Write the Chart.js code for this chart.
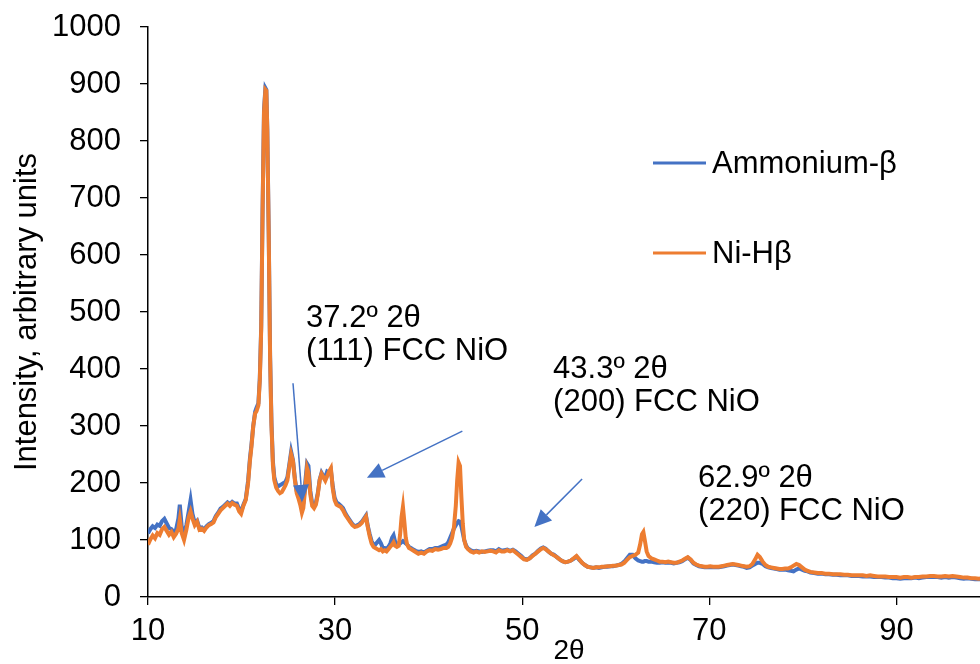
<!DOCTYPE html>
<html>
<head>
<meta charset="utf-8">
<script src="https://cdn.jsdelivr.net/npm/chart.js@4/dist/chart.umd.min.js"></script>
<style>
  html, body { margin: 0; padding: 0; background: #fff; overflow: hidden; }
  #wrap { width: 990px; height: 664px; position: relative; }
</style>
</head>
<body>
<div id="wrap"><canvas id="xrdChart"></canvas></div>
<script>
// 2θ positions
const twoTheta = [
  10.0, 10.25, 10.5, 10.75, 11.0, 11.25, 11.5, 11.75, 12.0, 12.25, 12.5, 12.75, 13.0, 13.25, 13.4, 13.6, 13.85, 14.1, 14.35, 14.55,
  14.75, 15.0, 15.25, 15.5, 15.75, 16.0, 16.25, 16.5, 16.75, 17.0, 17.25, 17.5, 17.75, 18.0, 18.25, 18.5, 18.75, 19.0, 19.25, 19.5,
  19.75, 19.95, 20.2, 20.45, 20.7, 20.9, 21.05, 21.25, 21.45, 21.6, 21.8, 21.95, 22.1, 22.25, 22.4, 22.55, 22.65, 22.75, 22.9, 23.05,
  23.2, 23.35, 23.5, 23.7, 23.9, 24.1, 24.3, 24.5, 24.7, 24.9, 25.1, 25.3, 25.5, 25.7, 25.9, 26.1, 26.3, 26.45, 26.6, 26.8,
  27.0, 27.15, 27.35, 27.55, 27.75, 27.95, 28.15, 28.35, 28.55, 28.75, 28.95, 29.15, 29.35, 29.55, 29.75, 29.95, 30.15, 30.35, 30.6, 30.85,
  31.1, 31.35, 31.6, 31.85, 32.1, 32.35, 32.6, 32.85, 33.1, 33.3, 33.5, 33.7, 33.9, 34.1, 34.3, 34.5, 34.7, 34.9, 35.1, 35.3,
  35.5, 35.7, 35.9, 36.1, 36.25, 36.4, 36.6, 36.8, 36.95, 37.1, 37.25, 37.4, 37.55, 37.7, 37.9, 38.1, 38.3, 38.6, 38.9, 39.2,
  39.5, 39.8, 40.1, 40.4, 40.7, 41.0, 41.3, 41.6, 41.9, 42.1, 42.3, 42.5, 42.7, 42.9, 43.05, 43.2, 43.35, 43.5, 43.65, 43.8,
  44.0, 44.2, 44.5, 44.8, 45.1, 45.4, 45.7, 46.0, 46.3, 46.6, 46.9, 47.2, 47.5, 47.8, 48.1, 48.4, 48.7, 49.0, 49.3, 49.6,
  49.9, 50.2, 50.5, 50.8, 51.1, 51.4, 51.7, 52.0, 52.25, 52.5, 52.8, 53.1, 53.4, 53.7, 54.0, 54.3, 54.6, 54.9, 55.2, 55.5,
  55.8, 56.1, 56.4, 56.7, 57.0, 57.3, 57.6, 57.9, 58.2, 58.5, 58.8, 59.1, 59.4, 59.7, 60.0, 60.3, 60.6, 60.9, 61.2, 61.5,
  61.8, 62.1, 62.4, 62.6, 62.8, 62.95, 63.1, 63.3, 63.5, 63.8, 64.1, 64.4, 64.7, 65.0, 65.3, 65.6, 65.9, 66.2, 66.5, 66.8,
  67.1, 67.4, 67.7, 68.0, 68.3, 68.6, 68.9, 69.2, 69.5, 69.8, 70.1, 70.4, 70.7, 71.0, 71.3, 71.6, 71.9, 72.2, 72.5, 72.8,
  73.1, 73.4, 73.7, 74.0, 74.3, 74.6, 74.9, 75.15, 75.4, 75.7, 76.0, 76.3, 76.6, 76.9, 77.2, 77.5, 77.8, 78.1, 78.4, 78.7,
  79.0, 79.3, 79.6, 79.9, 80.2, 80.5, 80.8, 81.2, 81.6, 82.0, 82.4, 82.8, 83.2, 83.6, 84.0, 84.4, 84.8, 85.2, 85.6, 86.0,
  86.4, 86.8, 87.2, 87.6, 88.0, 88.4, 88.8, 89.2, 89.6, 90.0, 90.4, 90.8, 91.2, 91.6, 92.0, 92.4, 92.8, 93.2, 93.6, 94.0,
  94.4, 94.8, 95.2, 95.6, 96.0, 96.4, 96.8, 97.2, 97.6, 98.0, 98.4, 98.8, 99.2, 99.6, 100.0
];

const ammoniumBeta = [
  112, 119, 124, 121, 127, 125, 133, 137, 129, 121, 119, 114, 118, 138, 162, 124, 110, 126, 150, 170,
  146, 130, 134, 121, 122, 118, 124, 128, 130, 133, 142, 148, 155, 158, 162, 166, 163, 167, 164, 164,
  154, 150, 162, 172, 204, 244, 266, 300, 325, 332, 340, 384, 475, 685, 855, 893, 890, 822, 645, 425,
  305, 238, 210, 198, 194, 196, 198, 200, 202, 210, 232, 255, 240, 208, 186, 176, 168, 158, 164, 200,
  234, 230, 186, 164, 160, 166, 182, 206, 218, 212, 210, 220, 218, 222, 194, 174, 166, 164, 160, 156,
  147, 140, 134, 128, 124, 126, 128, 132, 138, 143, 124, 110, 98, 92, 92, 96, 100, 94, 86, 86,
  84, 88, 94, 104, 108, 98, 92, 94, 94, 96, 98, 96, 94, 92, 88, 86, 84, 81, 79, 80,
  78, 81, 84, 84, 86, 86, 88, 90, 92, 96, 104, 112, 120, 126, 130, 133, 132, 124, 112, 100,
  90, 85, 82, 80, 81, 80, 79, 80, 81, 82, 82, 80, 84, 81, 82, 83, 81, 83, 80, 76,
  72, 67, 66, 68, 73, 76, 81, 85, 87, 85, 80, 76, 74, 70, 66, 63, 61, 62, 64, 67,
  71, 65, 60, 56, 53, 52, 51, 52, 51, 52, 53, 53, 54, 54, 55, 56, 58, 62, 68, 74,
  74, 68, 64, 63, 62, 62, 63, 63, 62, 62, 61, 60, 60, 61, 60, 60, 60, 59, 60, 61,
  63, 66, 69, 65, 59, 56, 54, 53, 52, 52, 52, 52, 52, 52, 53, 54, 55, 56, 57, 56,
  55, 54, 53, 51, 52, 55, 58, 60, 60, 58, 54, 52, 51, 50, 49, 48, 48, 48, 47, 46,
  45, 48, 50, 48, 46, 45, 43, 42, 41, 41, 40, 40, 39, 39, 38, 38, 38, 37, 37, 37,
  36, 36, 36, 35, 35, 35, 34, 34, 33, 33, 32, 33, 33, 33, 34, 33, 34, 35, 35, 35,
  35, 34, 35, 34, 35, 34, 33, 32, 33, 32, 31, 31, 31, 30, 30
];

const niHBeta = [
  92, 101, 108, 103, 112, 109, 119, 123, 116, 109, 114, 105, 111, 120, 136, 112, 100, 118, 140, 150,
  138, 126, 132, 118, 120, 116, 122, 126, 128, 131, 140, 146, 152, 156, 160, 164, 160, 165, 162, 160,
  150, 146, 160, 170, 200, 240, 262, 300, 322, 326, 336, 380, 470, 680, 850, 890, 888, 820, 640, 420,
  300, 232, 205, 192, 186, 182, 184, 190, 196, 205, 228, 250, 238, 205, 182, 172, 160, 148, 156, 190,
  226, 218, 180, 160, 156, 162, 180, 205, 216, 210, 204, 212, 220, 226, 190, 170, 162, 160, 158, 152,
  144, 138, 132, 126, 123, 124, 126, 130, 136, 141, 122, 106, 94, 88, 86, 84, 82, 84, 80, 82,
  80, 84, 88, 92, 96, 90, 88, 90, 110, 140, 158, 132, 104, 92, 86, 84, 82, 79, 76, 78,
  76, 80, 82, 81, 84, 83, 84, 86, 86, 88, 94, 104, 122, 160, 205, 236, 230, 175, 128, 100,
  88, 84, 80, 78, 80, 78, 80, 79, 80, 81, 80, 78, 82, 80, 80, 82, 80, 82, 78, 74,
  70, 66, 65, 68, 72, 76, 80, 84, 86, 84, 80, 76, 73, 70, 66, 63, 61, 62, 64, 68,
  72, 66, 60, 56, 53, 52, 51, 52, 52, 53, 53, 54, 54, 55, 55, 56, 57, 60, 65, 70,
  72, 74, 78, 92, 110, 114, 100, 80, 72, 68, 66, 64, 62, 62, 61, 62, 61, 60, 60, 62,
  64, 67, 70, 66, 60, 57, 55, 54, 53, 53, 54, 53, 53, 53, 54, 55, 56, 57, 58, 57,
  56, 55, 54, 53, 54, 58, 66, 74, 70, 62, 56, 53, 52, 51, 50, 49, 49, 50, 50, 52,
  55, 58, 56, 52, 48, 46, 44, 43, 42, 42, 41, 41, 40, 40, 40, 39, 39, 38, 38, 38,
  38, 37, 38, 37, 36, 36, 36, 35, 35, 35, 34, 35, 35, 34, 35, 35, 36, 36, 37, 37,
  36, 36, 37, 36, 37, 36, 35, 34, 34, 33, 33, 32, 33, 32, 32
];

const seriesNames = ['Ammonium-β', 'Ni-Hβ'];
const seriesColors = ['#4472C4', '#ED7D31'];
const yTicks = [0, 100, 200, 300, 400, 500, 600, 700, 800, 900, 1000];
const xTicks = [10, 30, 50, 70, 90];

// annotation texts, anchored in data units (2θ, intensity) at the first line's baseline
const noteLines = [
  ['37.2º 2θ', '(111) FCC NiO'],
  ['43.3º 2θ', '(200) FCC NiO'],
  ['62.9º 2θ', '(220) FCC NiO']
];
const noteAnchors = [[26.9, 474], [53.3, 384], [68.8, 193]];
// arrows: [from x, from y, to x, to y]
const arrows = [
  [25.5, 375, 26.5, 167],
  [43.6, 291, 33.4, 209],
  [56.4, 207, 51.3, 123]
];

const FONT = "'Liberation Sans', Arial, sans-serif";

const toPoints = vals => vals.map((v, i) => ({ x: twoTheta[i], y: v }));

const overlay = {
  id: 'overlay',
  afterDraw(chart) {
    const { ctx, scales: { x, y } } = chart;
    ctx.save();
    // arrows
    ctx.strokeStyle = '#4472C4';
    ctx.fillStyle = '#4472C4';
    ctx.lineWidth = 1.5;
    arrows.forEach(a => {
      const x0 = x.getPixelForValue(a[0]), y0 = y.getPixelForValue(a[1]);
      const x1 = x.getPixelForValue(a[2]), y1 = y.getPixelForValue(a[3]);
      const ang = Math.atan2(y1 - y0, x1 - x0);
      const len = 17, half = 8;
      const bx = x1 - len * Math.cos(ang), by = y1 - len * Math.sin(ang);
      ctx.beginPath();
      ctx.moveTo(x0, y0);
      ctx.lineTo(bx, by);
      ctx.stroke();
      ctx.beginPath();
      ctx.moveTo(x1, y1);
      ctx.lineTo(bx + half * Math.sin(ang), by - half * Math.cos(ang));
      ctx.lineTo(bx - half * Math.sin(ang), by + half * Math.cos(ang));
      ctx.closePath();
      ctx.fill();
    });
    // annotation text
    ctx.fillStyle = '#000';
    ctx.font = '31px ' + FONT;
    ctx.textAlign = 'left';
    ctx.textBaseline = 'alphabetic';
    noteLines.forEach((lines, i) => {
      const px = x.getPixelForValue(noteAnchors[i][0]);
      const py = y.getPixelForValue(noteAnchors[i][1]);
      lines.forEach((t, j) => ctx.fillText(t, px, py + j * 33));
    });
    // legend
    const lx = 653, ly = [163, 253];
    seriesNames.forEach((name, i) => {
      ctx.strokeStyle = seriesColors[i];
      ctx.lineWidth = 3;
      ctx.beginPath();
      ctx.moveTo(lx, ly[i]);
      ctx.lineTo(lx + 53, ly[i]);
      ctx.stroke();
      ctx.fillStyle = '#000';
      ctx.textBaseline = 'middle';
      ctx.fillText(name, lx + 59, ly[i] + 1);
    });
    ctx.restore();
  }
};

const ctx = document.getElementById('xrdChart').getContext('2d');

new Chart(ctx, {
  type: 'line',
  data: {
    datasets: [
      {
        label: seriesNames[0],
        data: toPoints(ammoniumBeta),
        borderColor: seriesColors[0],
        borderWidth: 4,
        pointRadius: 0,
        tension: 0,
        order: 2
      },
      {
        label: seriesNames[1],
        data: toPoints(niHBeta),
        borderColor: seriesColors[1],
        borderWidth: 4,
        pointRadius: 0,
        tension: 0,
        order: 1
      }
    ]
  },
  options: {
    responsive: true,
    maintainAspectRatio: false,
    animation: false,
    layout: { padding: { top: 27, left: 0, right: 0, bottom: 0 } },
    plugins: {
      legend: { display: false },
      tooltip: { enabled: false }
    },
    scales: {
      x: {
        type: 'linear',
        min: 10,
        max: 100,
        afterFit: s => { s.height = 67; s.paddingLeft = 0; s.paddingRight = 0; },
        afterBuildTicks: s => { s.ticks = xTicks.map(v => ({ value: v })); },
        ticks: {
          color: '#000',
          font: { family: FONT, size: 31 },
          padding: 8,
          maxRotation: 0,
          callback: v => String(v)
        },
        grid: { drawOnChartArea: false, tickLength: 8, color: '#000', lineWidth: 1.3 },
        border: { color: '#000', width: 1.5 },
        title: {
          display: true,
          text: '2θ',
          color: '#000',
          font: { family: FONT, size: 28, lineHeight: 1 },
          padding: { top: 0, bottom: -1 }
        }
      },
      y: {
        min: 0,
        max: 1000,
        afterFit: s => { s.width = 148; s.paddingTop = 0; s.paddingBottom = 0; },
        afterBuildTicks: s => { s.ticks = yTicks.map(v => ({ value: v })); },
        ticks: {
          color: '#000',
          font: { family: FONT, size: 31 },
          padding: 19,
          callback: v => String(v)
        },
        grid: { drawOnChartArea: false, tickLength: 8, color: '#000', lineWidth: 1.3 },
        border: { color: '#000', width: 1.5 },
        title: {
          display: true,
          text: 'Intensity, arbitrary units',
          color: '#000',
          font: { family: FONT, size: 31, lineHeight: 1.2 },
          padding: { top: 9, bottom: 0 }
        }
      }
    }
  },
  plugins: [overlay]
});
</script>
</body>
</html>
